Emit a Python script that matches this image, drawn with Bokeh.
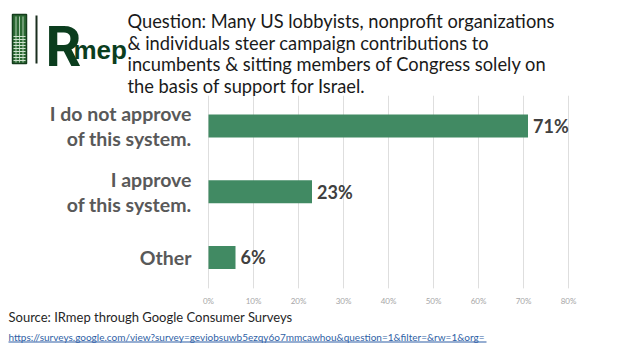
from bokeh.plotting import figure
from bokeh.models import Range1d, FixedTicker
from bokeh.core.properties import value
from bokeh.embed import file_html
from bokeh.resources import INLINE

# ---- data ----
categories = ["I do not approve\nof this system.", "I approve\nof this system.", "Other"]
percents = [71, 23, 6]
percent_labels = ["71%", "23%", "6%"]
tick_values = [0, 10, 20, 30, 40, 50, 60, 70, 80]
tick_labels = ["0%", "10%", "20%", "30%", "40%", "50%", "60%", "70%", "80%"]
title_lines = [
    "Question: Many US lobbyists, nonprofit organizations",
    "& individuals steer campaign contributions to",
    "incumbents & sitting members of Congress solely on",
    "the basis of support for Israel.",
]
source_text = "Source: IRmep through Google Consumer Surveys"
url_text = "https://surveys.google.com/view?survey=geviobsuwb5ezqy6o7mmcawhou&question=1&filter=&rw=1&org="

FONT = "Lato"
BAR = "#418a63"
W, H = 623, 351

n = len(categories)
ypos = [n - 1 - i for i in range(n)]  # first category on top

# layout of the chart area inside the page (pixels)
X0, X80 = 208, 568            # where 0% and 80% sit
ROW_TOP, ROW_H = 92.6, 65.75  # top of first row, row height
SX = (X80 - X0) / 80.0
x_lo, x_hi = -X0 / SX, (W - X0) / SX
y_hi = (n - 0.5) + ROW_TOP / ROW_H
y_lo = -0.5 - (H - ROW_TOP - n * ROW_H) / ROW_H

p = figure(x_range=Range1d(x_lo, x_hi), y_range=Range1d(y_lo, y_hi),
           width=W, height=H, min_border=0,
           output_backend="svg", toolbar_location=None)
p.extra_x_ranges = {"px": Range1d(0, W)}
p.extra_y_ranges = {"py": Range1d(H, 0)}
p.outline_line_color = None
p.background_fill_color = "white"
p.border_fill_color = "white"
p.grid.visible = False

# gridlines (bounded to the chart rows)
p.segment(x0=tick_values, x1=tick_values, y0=-0.47, y1=n - 0.54, line_color="#dedede", line_width=1)

p.hbar(y=ypos, right=percents, left=0, height=0.35, fill_color=BAR, line_color=None)
p.text(x=percents, y=ypos, text=percent_labels, x_offset=5, text_font=value(FONT),
       text_font_style="bold", text_font_size="18px", text_color="#404040", text_baseline="middle")

p.xaxis.fixed_location = -0.5
p.xaxis.ticker = FixedTicker(ticks=tick_values)
p.xaxis.major_label_overrides = {v: l for v, l in zip(tick_values, tick_labels)}
p.xaxis.major_label_text_font = FONT
p.xaxis.major_label_text_font_size = "8px"
p.xaxis.major_label_text_color = "#a6a6a6"
p.xaxis.axis_line_color = None
p.xaxis.major_tick_line_color = None
p.xaxis.minor_tick_line_color = None
p.xaxis.major_label_standoff = 0

p.yaxis.fixed_location = 0
p.yaxis.ticker = FixedTicker(ticks=ypos)
p.yaxis.major_label_overrides = {y: c for y, c in zip(ypos, categories)}
p.yaxis.axis_line_color = None
p.yaxis.major_tick_line_color = None
p.yaxis.minor_tick_line_color = None
p.yaxis.major_label_standoff = 11
p.yaxis.major_label_text_font = FONT
p.yaxis.major_label_text_font_style = "bold"
p.yaxis.major_label_text_font_size = "19.5px"
p.yaxis.major_label_text_line_height = 1.07
p.yaxis.major_label_text_color = "#595959"

PX = dict(x_range_name="px", y_range_name="py")

def txt(x, y, t, size, color, font=FONT, style="normal"):
    p.text(x=[x], y=[y], text=[t], text_font=value(font), text_font_size=size, text_font_style=style,
           text_color=color, text_baseline="alphabetic", text_align="left", **PX)

def box(l, r, t, b, fill, line=None, lw=0):
    p.quad(left=[l], right=[r], top=[t], bottom=[b], fill_color=fill, line_color=line, line_width=lw, **PX)

# logo
box(12, 26, 14, 63, "#2c6a34", "#143d1c", 1.5)
for xx in [15.5, 19, 22.5]:
    box(xx - 0.4, xx + 0.4, 16, 62, "#cfe3cf")
for yy in range(36, 63, 3):
    box(13, 25, yy - 0.4, yy + 0.4, "#cfe3cf")
box(35, 37, 15, 63, "#1a2e1f")
txt(45, 46.2, "R", "56px", "#0b3d1e", font="Roboto", style="bold")
txt(73, 49.2, "mep", "26px", "#0b3d1e", font="Liberation Sans", style="bold")

# title
for yy, t in zip([20.5, 42.2, 63.8, 85.5], title_lines):
    txt(127, yy, t, "18.3px", "#1a1a1a")

# footer
txt(8, 316.6, source_text, "13px", "#262626")
txt(8, 336.5, url_text, "10px", "#2f5fa6")
box(8, 486, 341, 342, "#2f5fa6")

open("out.html", "w").write(file_html(p, INLINE))
